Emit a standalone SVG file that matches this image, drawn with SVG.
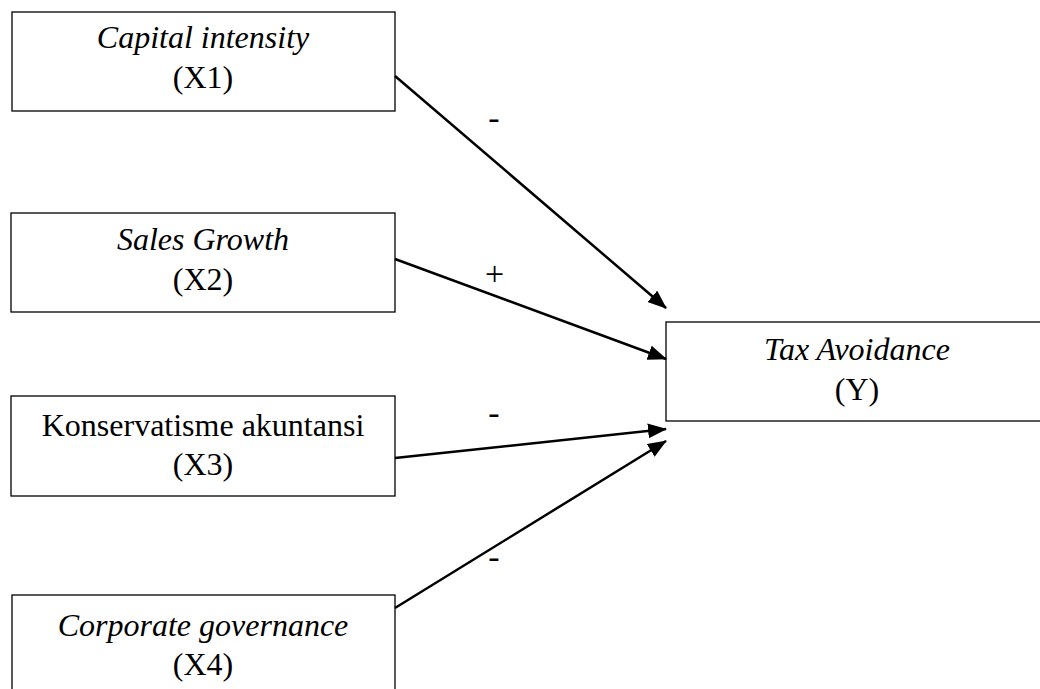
<svg xmlns="http://www.w3.org/2000/svg" width="1040" height="689" viewBox="0 0 1040 689">
<style>
.box{fill:#fff;stroke:#000;stroke-width:1.3}
.t{font-family:"Liberation Serif","Times New Roman",serif;font-size:32px;fill:#000;text-anchor:middle}
.i{font-style:italic}
.lbl{font-family:"Liberation Serif","Times New Roman",serif;font-size:34px;fill:#000;text-anchor:middle}
.edge{stroke:#000;stroke-width:2.5;fill:none;marker-end:url(#arr)}
</style>
<defs>
<marker id="arr" markerUnits="userSpaceOnUse" markerWidth="20" markerHeight="16" refX="18" refY="7.5" orient="auto">
<path d="M0,0 L19,7.5 L0,15 z" fill="#000"/>
</marker>
</defs>
<rect width="1040" height="689" fill="#fff"/>
<g id="x1">
<rect class="box" x="12" y="12" width="383" height="99"/>
<text class="t i" x="203" y="48">Capital intensity</text>
<text class="t" x="203" y="88">(X1)</text>
</g>
<g id="x2">
<rect class="box" x="11" y="213" width="384" height="99"/>
<text class="t i" x="203" y="250">Sales Growth</text>
<text class="t" x="203" y="290">(X2)</text>
</g>
<g id="x3">
<rect class="box" x="11" y="396" width="384" height="100"/>
<text class="t" x="203" y="436">Konservatisme akuntansi</text>
<text class="t" x="203" y="475">(X3)</text>
</g>
<g id="x4">
<rect class="box" x="12" y="595" width="383" height="100"/>
<text class="t i" x="203" y="636">Corporate governance</text>
<text class="t" x="203" y="675">(X4)</text>
</g>
<g id="y">
<rect class="box" x="666" y="322" width="382" height="99"/>
<text class="t i" x="857" y="360">Tax Avoidance</text>
<text class="t" x="857" y="400">(Y)</text>
</g>
<g id="connectors">
<line class="edge" x1="395" y1="76" x2="666" y2="308"/>
<line class="edge" x1="395" y1="259" x2="666" y2="359"/>
<line class="edge" x1="395" y1="458" x2="666" y2="429"/>
<line class="edge" x1="395" y1="608" x2="666" y2="441"/>
<text class="lbl" x="494" y="128.5">-</text>
<text class="lbl" x="494.5" y="285">+</text>
<text class="lbl" x="494" y="423.5">-</text>
<text class="lbl" x="494" y="567.5">-</text>
</g>
</svg>
